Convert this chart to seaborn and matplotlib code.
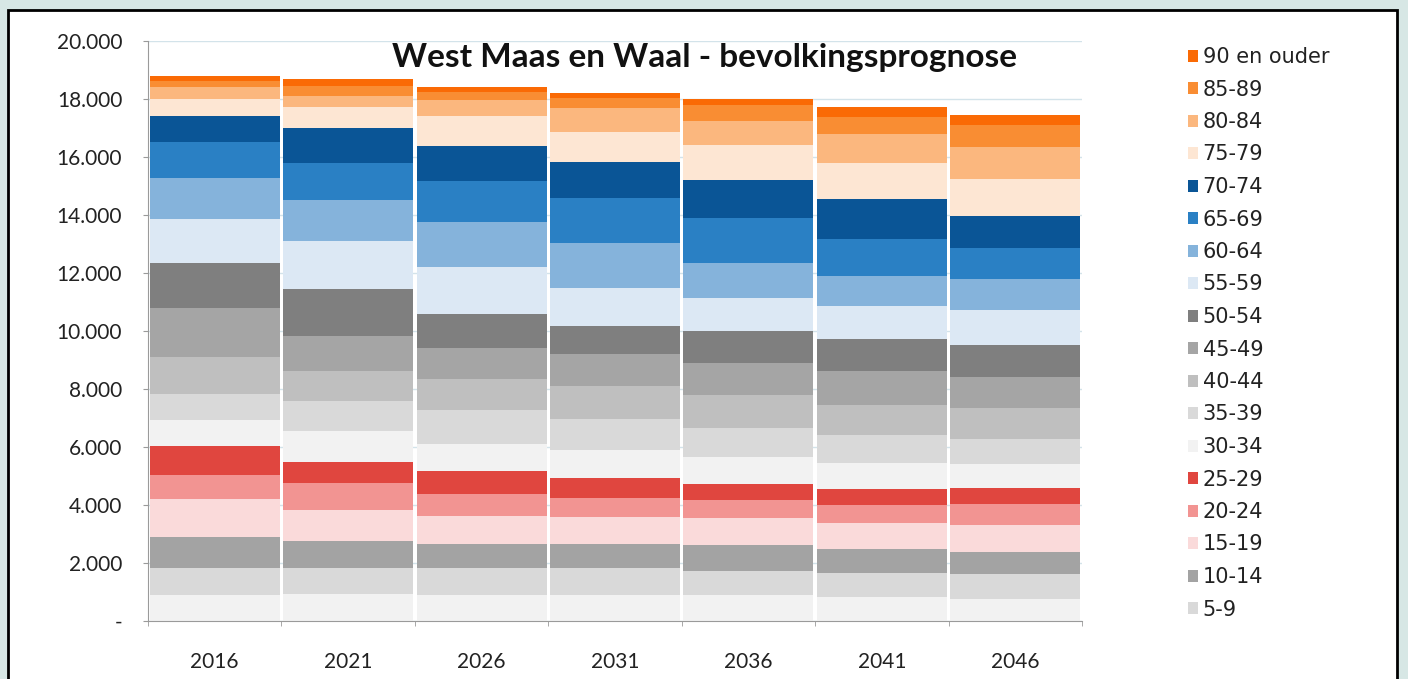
import numpy as np
import pandas as pd
import matplotlib.pyplot as plt
import matplotlib.ticker as mticker
from matplotlib.patches import Patch, Rectangle
import seaborn as sns

# Years on the x axis
years = ["2016", "2021", "2026", "2031", "2036", "2041", "2046"]

# Inhabitants per age group, one value per year
a0_4 = [880, 940, 880, 900, 880, 820, 750]
a5_9 = [940, 880, 940, 920, 850, 840, 860]
a10_14 = [1090, 940, 840, 840, 880, 820, 770]
a15_19 = [1290, 1070, 950, 910, 930, 910, 940]
a20_24 = [840, 940, 780, 670, 620, 620, 720]
a25_29 = [980, 720, 780, 680, 580, 530, 540]
a30_34 = [900, 1060, 950, 970, 900, 920, 850]
a35_39 = [920, 1040, 1150, 1070, 1030, 940, 840]
a40_44 = [1250, 1040, 1070, 1130, 1130, 1060, 1070]
a45_49 = [1690, 1210, 1070, 1130, 1100, 1170, 1060]
a50_54 = [1570, 1600, 1190, 960, 1110, 1090, 1130]
a55_59 = [1510, 1660, 1590, 1290, 1130, 1130, 1190]
a60_64 = [1400, 1410, 1580, 1550, 1210, 1060, 1090]
a65_69 = [1270, 1290, 1400, 1550, 1530, 1260, 1040]
a70_74 = [900, 1190, 1200, 1260, 1320, 1380, 1130]
a75_79 = [570, 750, 1040, 1040, 1230, 1250, 1260]
a80_84 = [400, 380, 550, 810, 810, 1000, 1090]
a85_89 = [230, 340, 290, 350, 570, 570, 790]
a90_plus = [150, 230, 160, 190, 190, 340, 340]

age_labels = ["0-4", "5-9", "10-14", "15-19", "20-24", "25-29", "30-34",
              "35-39", "40-44", "45-49", "50-54", "55-59", "60-64", "65-69",
              "70-74", "75-79", "80-84", "85-89", "90 en ouder"]
age_values = [a0_4, a5_9, a10_14, a15_19, a20_24, a25_29, a30_34, a35_39,
              a40_44, a45_49, a50_54, a55_59, a60_64, a65_69, a70_74,
              a75_79, a80_84, a85_89, a90_plus]

colors = ["#f2f2f2", "#d9d9d9", "#a3a3a3", "#fadada", "#f29492", "#e0463f",
          "#f2f2f2", "#d9d9d9", "#bfbfbf", "#a5a5a5", "#7f7f7f",
          "#dce8f4", "#85b3db", "#2a80c4", "#0a5596",
          "#fde6d3", "#fbb77e", "#f98d33", "#fa6a05"]

df = pd.DataFrame(np.array(age_values).T, index=years, columns=age_labels)
cum = df.cumsum(axis=1)

fig = plt.figure(figsize=(14.08, 6.79), dpi=100, facecolor="#d7e7e5")
fig.patches.append(Rectangle((8 / 1408, -0.01), 1389 / 1408, 1 - 10 / 679 + 0.01,
                             transform=fig.transFigure, facecolor="white",
                             edgecolor="black", linewidth=2, zorder=-5))
ax = fig.add_axes([148 / 1408, 58 / 679, 934 / 1408, 580 / 679])
ax.set_facecolor("none")

# stacked bars: draw the running totals from the top group down
for label, color in reversed(list(zip(age_labels, colors))):
    sns.barplot(x=years, y=cum[label].values, color=color, saturation=1,
                width=0.975, errorbar=None, linewidth=0, ax=ax, zorder=2)

ax.set_ylim(0, 20000)
ax.set_xlim(-0.5, 6.5)
ax.yaxis.set_major_locator(mticker.MultipleLocator(2000))
ax.yaxis.set_major_formatter(mticker.FuncFormatter(
    lambda v, p: "-" if v == 0 else f"{v:,.0f}".replace(",", ".")))
ax.grid(axis="y", color="#d3e3ea", linewidth=1, zorder=0)
ax.set_axisbelow(True)
ax.xaxis.set_minor_locator(mticker.FixedLocator(np.arange(-0.5, 7, 1)))
ax.tick_params(axis="x", which="major", length=0, pad=22,
               labelsize=15, labelcolor="#222222")
ax.tick_params(axis="x", which="minor", length=3.6, color="#9a9a9a")
ax.tick_params(axis="y", length=3.6, color="#9a9a9a", pad=15,
               labelsize=15, labelcolor="#222222")
for s in ["top", "right"]:
    ax.spines[s].set_visible(False)
for s in ["left", "bottom"]:
    ax.spines[s].set_color("#9a9a9a")
ax.set_xlabel("")
ax.set_ylabel("")

ax.text(0.596, 0.972, "West Maas en Waal - bevolkingsprognose",
        transform=ax.transAxes, ha="center", va="center",
        fontsize=24, fontweight="bold", color="#111111",
        family=["Lato", "DejaVu Sans"])

handles = [Patch(facecolor=c, edgecolor="none", label=l)
           for l, c in zip(age_labels[1:], colors[1:])][::-1]
fig.legend(handles=handles, loc="upper left",
           bbox_to_anchor=(1188 / 1408, 1 - 47 / 679), frameon=False,
           prop={"family": ["DejaVu Sans"], "size": 15},
           handlelength=0.5, handleheight=0.5, handletextpad=0.2,
           labelspacing=0.6, borderpad=0, borderaxespad=0,
           labelcolor="#222222")

for t in ax.get_xticklabels() + ax.get_yticklabels():
    t.set_family(["Lato", "DejaVu Sans"])

fig.savefig("out.png", dpi=100, facecolor=fig.get_facecolor())
